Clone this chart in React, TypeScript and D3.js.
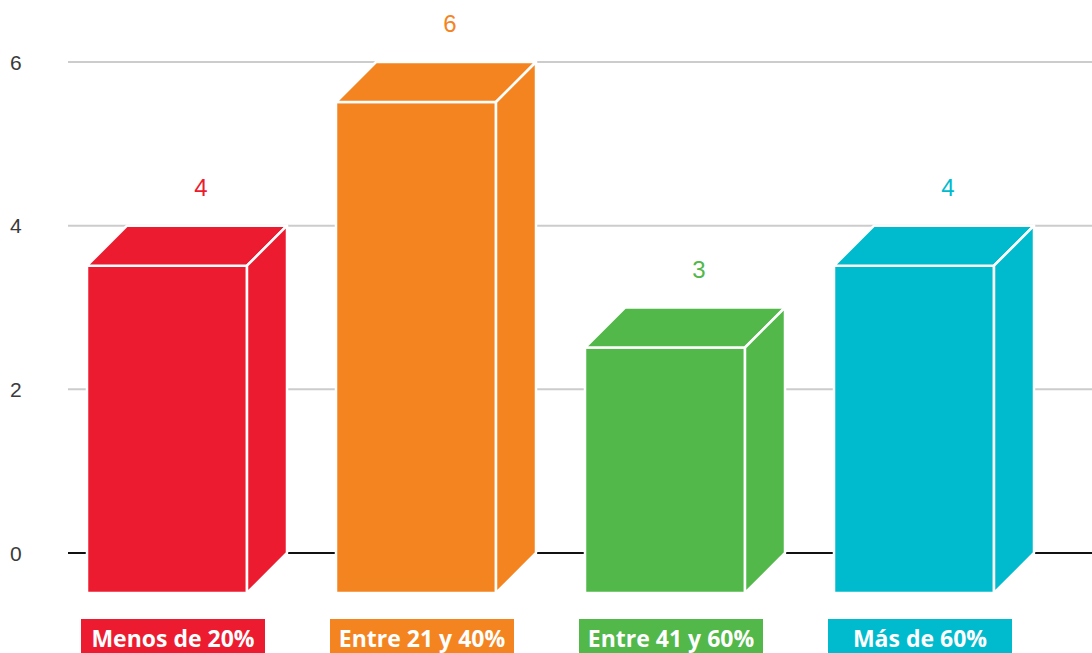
import React from "react";
import * as d3 from "d3";

const categories = ["Menos de 20%", "Entre 21 y 40%", "Entre 41 y 60%", "Más de 60%"];
const values = [4, 6, 3, 4];
const colors = ["#ED1B2F", "#F4841F", "#51B849", "#00BBCE"];
const yTicks = [0, 2, 4, 6];

const W = 1092;
const H = 653;
const DEPTH = 40;

export default function App() {
  const y = d3.scaleLinear().domain([0, 6]).range([553, 62]);
  const x = d3
    .scaleBand<string>()
    .domain(categories)
    .range([82.5, 1078.5])
    .paddingInner(89 / 249)
    .paddingOuter(89 / 498);
  const bw = x.bandwidth();
  const gridLeft = 68;

  return (
    <svg
      width={W}
      height={H}
      style={{ position: "absolute", left: 0, top: 0, display: "block" }}
    >
      <rect x={0} y={0} width={W} height={H} fill="#fff" />
      {yTicks.map((t) => (
        <g key={t}>
          <line
            x1={gridLeft}
            x2={W}
            y1={y(t)}
            y2={y(t)}
            stroke={t === 0 ? "#111" : "#cccccc"}
            strokeWidth={2}
          />
          <text
            x={10}
            y={y(t)}
            dy="0.36em"
            fontFamily="'Liberation Sans', Arial, sans-serif"
            fontSize={21}
            fill="#3a3a3a"
          >
            {t}
          </text>
        </g>
      ))}
      {categories.map((c, i) => {
        const bx = x(c)!;
        const by = y(values[i]);
        const b0 = y(0);
        const fx = bx - DEPTH;
        const fy = by + DEPTH;
        const fb = b0 + DEPTH;
        const col = colors[i];
        const front = `M${fx},${fy}L${fx + bw},${fy}L${fx + bw},${fb}L${fx},${fb}Z`;
        const top = `M${fx},${fy}L${bx},${by}L${bx + bw},${by}L${fx + bw},${fy}Z`;
        const side = `M${fx + bw},${fy}L${bx + bw},${by}L${bx + bw},${b0}L${fx + bw},${fb}Z`;
        return (
          <g key={c}>
            <path d={front} fill={col} stroke="#fff" strokeWidth={2.5} strokeLinejoin="round" />
            <path d={top} fill={col} stroke="#fff" strokeWidth={2.5} strokeLinejoin="round" />
            <path d={side} fill={col} stroke="#fff" strokeWidth={2.5} strokeLinejoin="round" />
            <text
              x={bx + bw / 2 - 6}
              y={by - 30}
              textAnchor="middle"
              fontFamily="'Liberation Sans', Arial, sans-serif"
              fontSize={24}
              fill={col}
            >
              {values[i]}
            </text>
            <rect x={fx + bw / 2 + 6 - 92} y={619} width={184} height={40} fill={col} />
            <text
              x={fx + bw / 2 + 6}
              y={647}
              textAnchor="middle"
              fontFamily="'Open Sans', sans-serif"
              fontWeight={700}
              fontSize={23}
              fill="#fff"
            >
              {c}
            </text>
          </g>
        );
      })}
    </svg>
  );
}
